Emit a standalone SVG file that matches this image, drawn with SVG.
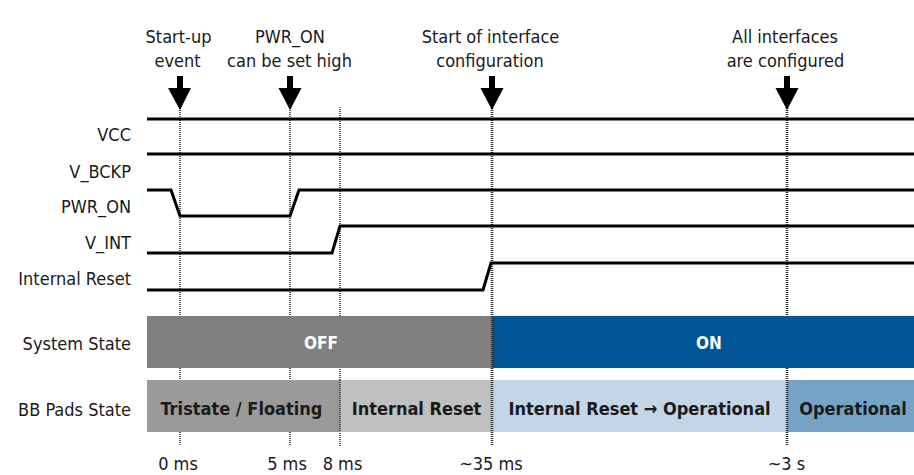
<svg xmlns="http://www.w3.org/2000/svg" width="914" height="475" viewBox="0 0 914 475">
<style>
text{font-family:"DejaVu Sans Condensed","DejaVu Sans",sans-serif;font-stretch:condensed;fill:#1a1a1a}
.lbl{font-size:18px;text-anchor:end}
.top{font-size:18px;text-anchor:middle}
.tick{font-size:18px;text-anchor:middle}
.bar{font-size:18px;font-weight:bold;text-anchor:middle}
.st{font-size:17px;font-weight:bold;text-anchor:middle;fill:#fff}
.sig{fill:none;stroke:#000;stroke-width:3;stroke-linejoin:miter}
.vl{stroke:#333;stroke-width:1.6;stroke-dasharray:1 1;fill:none}
.vlb{stroke:#333;stroke-width:2.6;stroke-dasharray:1 1;fill:none}
.arr{fill:#000}
</style>
<g id="markers-lines">
<line class="vl" x1="180" y1="108" x2="180" y2="446"/>
<line class="vl" x1="290" y1="108" x2="290" y2="446"/>
<line class="vl" x1="340" y1="107" x2="340" y2="446"/>
<line class="vlb" x1="492" y1="108" x2="492" y2="446"/>
<line class="vlb" x1="787" y1="108" x2="787" y2="446"/>
</g>
<g id="event-arrows">
<g id="arrow-startup"><rect class="arr" x="177" y="76" width="6" height="13"/><polygon class="arr" points="168,88 191,88 180,110"/></g>
<g id="arrow-pwron"><rect class="arr" x="287" y="76" width="6" height="13"/><polygon class="arr" points="278.5,88 301.5,88 290,110"/></g>
<g id="arrow-config"><rect class="arr" x="489" y="76" width="6" height="13"/><polygon class="arr" points="480.5,88 503.5,88 492,110"/></g>
<g id="arrow-configured"><rect class="arr" x="784" y="76" width="6" height="13"/><polygon class="arr" points="775.5,88 798.5,88 787,110"/></g>
</g>
<g id="top-labels">
<text class="top" x="178.5" y="43">Start-up</text>
<text class="top" x="177.5" y="67">event</text>
<text class="top" x="290" y="43">PWR_ON</text>
<text class="top" x="289.5" y="67">can be set high</text>
<text class="top" x="490.5" y="43">Start of interface</text>
<text class="top" x="490" y="67">configuration</text>
<text class="top" x="785" y="43">All interfaces</text>
<text class="top" x="785.5" y="67">are configured</text>
</g>
<g id="signals">
<g id="sig-vcc"><text class="lbl" x="131" y="141">VCC</text><polyline class="sig" points="147,119 914,119"/></g>
<g id="sig-vbckp"><text class="lbl" x="131" y="177.5">V_BCKP</text><polyline class="sig" points="147,154 914,154"/></g>
<g id="sig-pwron"><text class="lbl" x="131" y="213">PWR_ON</text><polyline class="sig" points="147,190 171,190 180,216 290,216 299,190 914,190"/></g>
<g id="sig-vint"><text class="lbl" x="131" y="249">V_INT</text><polyline class="sig" points="147,253 332,253 340,226 914,226"/></g>
<g id="sig-reset"><text class="lbl" x="131" y="285">Internal Reset</text><polyline class="sig" points="147,290 483,290 491,263 914,263"/></g>
</g>
<g id="system-state">
<text class="lbl" x="131" y="350">System State</text>
<g id="state-off"><rect x="147" y="316" width="345" height="52" fill="#808080"/><text class="st" x="321" y="349">OFF</text></g>
<g id="state-on"><rect x="492" y="316" width="422" height="52" fill="#005596"/><text class="st" x="709" y="349">ON</text></g>
</g>
<g id="bb-pads-state">
<text class="lbl" x="131" y="415.5">BB Pads State</text>
<g id="pad-tristate"><rect x="147" y="380" width="193" height="52" fill="#9a9a9a"/><text class="bar" x="241.5" y="415">Tristate / Floating</text></g>
<g id="pad-reset"><rect x="340" y="380" width="152" height="52" fill="#c0c0c0"/><text class="bar" x="416.5" y="415">Internal Reset</text></g>
<g id="pad-reset-op"><rect x="492" y="380" width="295" height="52" fill="#c2d6e8"/><text class="bar" x="639.5" y="415">Internal Reset → Operational</text></g>
<g id="pad-op"><rect x="787" y="380" width="127" height="52" fill="#74a3c7"/><text class="bar" x="853" y="415">Operational</text></g>
</g>
<g id="boundaries">
<line class="vl" x1="340" y1="380" x2="340" y2="432"/>
<line class="vlb" x1="492" y1="316" x2="492" y2="432"/>
<line class="vlb" x1="787" y1="380" x2="787" y2="432"/>
</g>
<g id="time-labels">
<text class="tick" x="178" y="470">0 ms</text>
<text class="tick" x="287" y="470">5 ms</text>
<text class="tick" x="342.5" y="470">8 ms</text>
<text class="tick" x="491" y="470">~35 ms</text>
<text class="tick" x="786.5" y="470">~3 s</text>
</g>
</svg>
